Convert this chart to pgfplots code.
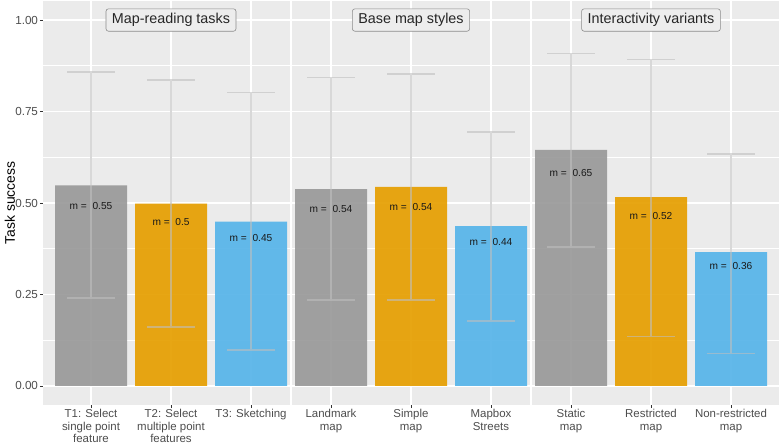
\documentclass[border=0pt]{standalone}
\usepackage{fontspec}
\setmainfont{Liberation Sans}
\usepackage{pgfplots}
\pgfplotsset{compat=1.18}
\definecolor{panelbg}{HTML}{EBEBEB}
\definecolor{cgray}{HTML}{999999}
\definecolor{corange}{HTML}{E69F00}
\definecolor{cblue}{HTML}{56B4E9}
\definecolor{ticktext}{HTML}{4D4D4D}
\definecolor{tickcol}{HTML}{333333}
\definecolor{errcol}{HTML}{BEBEBE}
\definecolor{boxfill}{HTML}{EDEDED}
\begin{document}
\begin{tikzpicture}
\useasboundingbox (0,0) rectangle (781bp,444bp);
\begin{axis}[
  at={(43bp,39bp)}, anchor=south west,
  scale only axis, width=736bp, height=404bp,
  xmin=-0.6, xmax=8.6, ymin=-0.052, ymax=1.052,
  axis background/.style={fill=panelbg},
  axis line style={draw=none},
  xtick={0,1,2,3,4,5,6,7,8},
  xticklabels={{T1: Select\\single point\\feature},{T2: Select\\multiple point\\features},{T3: Sketching},{Landmark\\map},{Simple\\map},{Mapbox\\Streets},{Static\\map},{Restricted\\map},{Non-restricted\\map}},
  x tick label style={align=center, font=\fontsize{11.5}{12.3}\selectfont, text=ticktext, yshift=2bp},
  ytick={0,0.25,0.5,0.75,1},
  yticklabels={0.00,0.25,0.50,0.75,1.00},
  y tick label style={font=\fontsize{11.7}{13}\selectfont, text=ticktext, xshift=1.5bp},
  minor y tick num=1,
  xmajorgrids, ymajorgrids, yminorgrids,
  major grid style={white, line width=1.1bp},
  minor grid style={white, line width=0.55bp},
  tick style={tickcol, line width=0.8bp},
  major tick length=3bp, minor tick length=0pt,
  tick align=outside,
  xtick pos=bottom, ytick pos=left,
  extra x ticks={2.5,5.5},
  extra x tick labels={},
  extra x tick style={major grid style={white, line width=2.4bp}, major tick length=0pt},
  ylabel={Task success},
  ylabel style={at={(axis description cs:0,0.5)}, anchor=center, yshift=33bp,
    font=\fontsize{14}{16}\selectfont, text=black},
  clip=false,
]
% bars
\addplot[ybar, bar width=0.9, bar shift=0pt, fill=cgray, fill opacity=0.92, draw=none]
  coordinates {(0,0.548) (3,0.538) (6,0.645)};
\addplot[ybar, bar width=0.9, bar shift=0pt, fill=corange, fill opacity=0.92, draw=none]
  coordinates {(1,0.498) (4,0.544) (7,0.516)};
\addplot[ybar, bar width=0.9, bar shift=0pt, fill=cblue, fill opacity=0.92, draw=none]
  coordinates {(2,0.449) (5,0.437) (8,0.366)};
% error bars (mean +/- sd)
\addplot[errcol, draw opacity=0.6, line width=1.4bp, unbounded coords=jump, mark=none] coordinates {
  (0,0.240) (0,0.858) (0,nan) (-0.3,0.858) (0.3,0.858) (0,nan) (-0.3,0.240) (0.3,0.240) (0,nan)
  (1,0.161) (1,0.836) (1,nan) (0.7,0.836) (1.3,0.836) (1,nan) (0.7,0.161) (1.3,0.161) (1,nan)
  (2,0.098) (2,0.802) (2,nan) (1.7,0.802) (2.3,0.802) (2,nan) (1.7,0.098) (2.3,0.098) (2,nan)
  (3,0.235) (3,0.843) (3,nan) (2.7,0.843) (3.3,0.843) (3,nan) (2.7,0.235) (3.3,0.235) (3,nan)
  (4,0.235) (4,0.852) (4,nan) (3.7,0.852) (4.3,0.852) (4,nan) (3.7,0.235) (4.3,0.235) (4,nan)
  (5,0.178) (5,0.694) (5,nan) (4.7,0.694) (5.3,0.694) (5,nan) (4.7,0.178) (5.3,0.178) (5,nan)
  (6,0.380) (6,0.908) (6,nan) (5.7,0.908) (6.3,0.908) (6,nan) (5.7,0.380) (6.3,0.380) (6,nan)
  (7,0.136) (7,0.892) (7,nan) (6.7,0.892) (7.3,0.892) (7,nan) (6.7,0.136) (7.3,0.136) (7,nan)
  (8,0.089) (8,0.634) (8,nan) (7.7,0.634) (8.3,0.634) (8,nan) (7.7,0.089) (8.3,0.089)
};
% mean labels at 0.9 * mean
\addplot[only marks, mark=none, nodes near coords, point meta=explicit symbolic,
  nodes near coords style={anchor=center, font=\fontsize{10.2}{12}\selectfont, text=black!90}]
  coordinates {
  (0,0.493) [m =\ \ 0.55]
  (1,0.448) [m =\ \ 0.5]
  (2,0.404) [m =\ \ 0.45]
  (3,0.484) [m =\ \ 0.54]
  (4,0.490) [m =\ \ 0.54]
  (5,0.393) [m =\ \ 0.44]
  (6,0.581) [m =\ \ 0.65]
  (7,0.464) [m =\ \ 0.52]
  (8,0.329) [m =\ \ 0.36]
  };
% facet labels
\addplot[only marks, mark=none, nodes near coords, point meta=explicit symbolic,
  nodes near coords style={anchor=center, font=\fontsize{14.4}{16}\selectfont, text=black!85,
    draw=black!45, line width=0.6bp, fill=boxfill, rounded corners=2.5bp,
    inner xsep=6bp, inner ysep=4.5bp, text height=10.4bp, text depth=3bp}]
  coordinates {
  (1,1) [Map-reading tasks]
  (4,1) [Base map styles]
  (7,1) [Interactivity variants]
  };
\end{axis}
\end{tikzpicture}
\end{document}
